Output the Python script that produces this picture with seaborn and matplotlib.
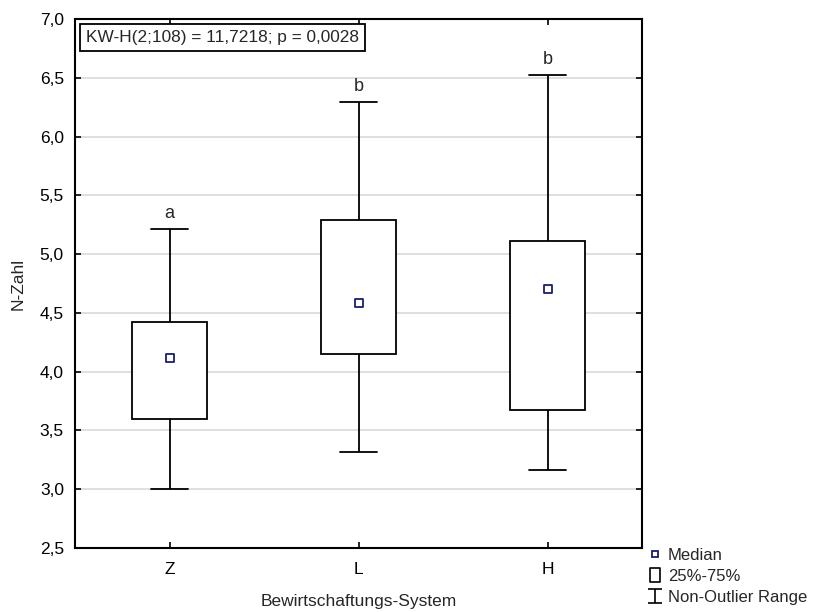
import pandas as pd
import seaborn as sns
import matplotlib.pyplot as plt
from matplotlib.lines import Line2D
from matplotlib.path import Path
from matplotlib.offsetbox import AnchoredText

# five-number summaries (non-outlier range + quartiles)
groups = ["Z", "L", "H"]
whisk_low = [3.00, 3.32, 3.16]
q1 = [3.60, 4.15, 3.67]
median = [4.12, 4.58, 4.70]
q3 = [4.42, 5.29, 5.11]
whisk_high = [5.21, 6.29, 6.52]
letters = ["a", "b", "b"]

# long table: with 5 values per group, the linear percentiles hit q1/median/q3 exactly
rows = []
for i, g in enumerate(groups):
    for v in [whisk_low[i], q1[i], median[i], q3[i], whisk_high[i]]:
        rows.append({"System": g, "N": v})
df = pd.DataFrame(rows)

sns.set_style("ticks")
plt.rcParams["font.family"] = ["Liberation Sans", "DejaVu Sans"]

fig = plt.figure(figsize=(8.13, 6.12), dpi=100)
ax = fig.add_axes([75 / 813, 1 - 548 / 612, (642 - 75) / 813, (548 - 19) / 612])

sns.boxplot(data=df, x="System", y="N", order=groups, whis=(0, 100), width=0.4,
            color="white", linecolor="black", linewidth=1.3, showfliers=False,
            medianprops={"visible": False}, ax=ax, zorder=3)
sns.scatterplot(x=groups, y=median, marker="s", s=30, color="white",
                edgecolor="#1c1c6e", linewidth=1.3, ax=ax, zorder=5)

for i, g in enumerate(groups):
    ax.text(i, whisk_high[i] + 0.06, letters[i], ha="center", va="bottom",
            fontsize=13)

ax.set_xlim(-0.5, 2.5)
ax.set_ylim(2.5, 7.0)
ax.set_yticks([2.5, 3.0, 3.5, 4.0, 4.5, 5.0, 5.5, 6.0, 6.5, 7.0])
ax.set_yticklabels(["2,5", "3,0", "3,5", "4,0", "4,5", "5,0", "5,5", "6,0", "6,5", "7,0"])
ax.yaxis.grid(True, color="#d9d9d9", linewidth=1.2, zorder=0)
ax.set_axisbelow(True)
ax.tick_params(direction="in", length=4, width=1.2, labelsize=12.5, colors="black",
               top=True, right=True)
ax.tick_params(axis="y", pad=8)
ax.tick_params(axis="x", pad=10)
for sp in ax.spines.values():
    sp.set_visible(True)
    sp.set_linewidth(1.5)
    sp.set_color("black")
ax.set_xlabel("Bewirtschaftungs-System", fontsize=12.5, labelpad=12)
ax.set_ylabel("N-Zahl", fontsize=12.5, labelpad=10)

at = AnchoredText("KW-H(2;108) = 11,7218; p = 0,0028", loc="upper left",
                  prop=dict(size=12.4), pad=0.35, borderpad=0.3, frameon=True)
at.patch.set_edgecolor("black")
at.patch.set_linewidth(1.3)
at.patch.set_boxstyle("square", pad=0)
at.set_zorder(6)
ax.add_artist(at)

# legend outside the axes, bottom right
ibeam = Path([(-0.9, 1), (0.9, 1), (0, 1), (0, -1), (-0.9, -1), (0.9, -1)],
             [Path.MOVETO, Path.LINETO, Path.MOVETO, Path.LINETO, Path.MOVETO, Path.LINETO])
rect = Path([(-0.65, -1), (0.65, -1), (0.65, 1), (-0.65, 1), (-0.65, -1)],
            [Path.MOVETO, Path.LINETO, Path.LINETO, Path.LINETO, Path.CLOSEPOLY])
handles = [
    Line2D([], [], marker="s", linestyle="none", markersize=5, markerfacecolor="white",
           markeredgecolor="#1c1c6e", markeredgewidth=1.3),
    Line2D([], [], marker=rect, linestyle="none", markersize=10.5, markerfacecolor="white",
           markeredgecolor="black", markeredgewidth=1.2),
    Line2D([], [], marker=ibeam, linestyle="none", markersize=10.5, markerfacecolor="none",
           markeredgecolor="black", markeredgewidth=1.2),
]
fig.legend(handles, ["Median", "25%-75%", "Non-Outlier Range"], loc="upper left",
           bbox_to_anchor=(647 / 813, 1 - 548 / 612), frameon=False, fontsize=12,
           handlelength=1.0, handletextpad=0.25, labelspacing=0.36, borderpad=0,
           borderaxespad=0)

fig.savefig("out.png", dpi=100)
